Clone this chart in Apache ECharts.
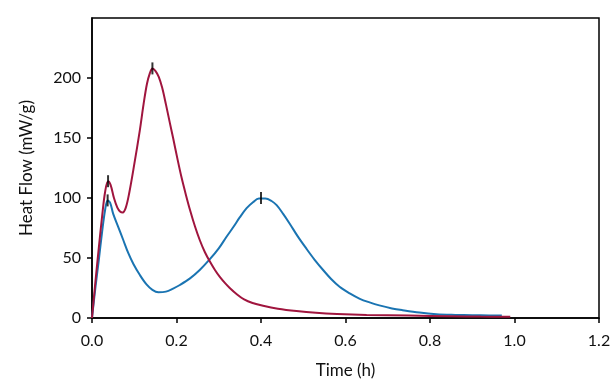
<!DOCTYPE html>
<html>
<head>
<meta charset="utf-8">
<script src="https://cdn.jsdelivr.net/npm/echarts@6/dist/echarts.min.js"></script>
<style>
html,body{margin:0;padding:0;background:#fff;}
#chart{width:615px;height:384px;}
</style>
</head>
<body>
<div id="chart"></div>
<script>
// ---- data ----
const redTime  = [0, 0.008, 0.016, 0.024, 0.031, 0.038, 0.044, 0.052, 0.06, 0.067, 0.073, 0.08, 0.088, 0.1, 0.113, 0.122, 0.13, 0.137, 0.143, 0.15, 0.158, 0.166, 0.175, 0.184, 0.192, 0.202, 0.212, 0.222, 0.232, 0.244, 0.255, 0.267, 0.279, 0.291, 0.303, 0.315, 0.326, 0.342, 0.36, 0.38, 0.405, 0.44, 0.484, 0.53, 0.58, 0.65, 0.75, 0.85, 0.92, 0.99];
const redFlow  = [0, 30, 58, 85, 105, 114, 111, 100, 92, 88.5, 88, 92, 104, 128, 156, 178, 195, 204, 208, 206, 201, 192, 178, 163, 150, 133, 117, 103, 90, 76, 65, 55, 47, 40, 34, 29, 25, 20, 15.5, 12.5, 10.2, 7.8, 5.8, 4.3, 3.3, 2.5, 2, 1.5, 1.2, 1];
const blueTime = [0, 0.008, 0.016, 0.024, 0.031, 0.037, 0.043, 0.05, 0.062, 0.074, 0.086, 0.098, 0.113, 0.129, 0.143, 0.157, 0.175, 0.192, 0.208, 0.232, 0.255, 0.279, 0.3, 0.318, 0.335, 0.35, 0.366, 0.381, 0.395, 0.41, 0.425, 0.437, 0.452, 0.468, 0.487, 0.507, 0.527, 0.547, 0.566, 0.586, 0.61, 0.634, 0.657, 0.68, 0.71, 0.735, 0.775, 0.815, 0.86, 0.9, 0.94, 0.97];
const blueFlow = [0, 25, 48, 72, 90, 98, 96, 87, 76, 65, 54, 45, 36, 28, 23.5, 21.5, 22, 24.5, 27.5, 33, 40, 49, 58, 67.5, 76, 84, 91.5, 96.5, 99.5, 99.5, 97.5, 94, 87, 78.6, 68, 58, 48.5, 40, 32.5, 26, 20.5, 16, 13, 10.5, 8, 6.5, 4.5, 3.2, 2.6, 2.3, 2.1, 2];
const peakTime = [0.038, 0.143, 0.037, 0.4];
const peakFlow = [114, 208, 98, 100];
const xTicks = [0, 0.2, 0.4, 0.6, 0.8, 1.0, 1.2];
const yTicks = [0, 50, 100, 150, 200];

const RED = '#A0153E';
const BLUE = '#1A74B2';
const FONT = 'Lato';

const zip = (a, b) => a.map((v, i) => [v, b[i]]);

const chart = echarts.init(document.getElementById('chart'), null, {renderer: 'canvas'});
chart.setOption({
  animation: false,
  backgroundColor: '#fff',
  grid: {left: 92, right: 16, top: 18, bottom: 66, show: true, borderColor: '#000', borderWidth: 1.5, backgroundColor: 'transparent'},
  xAxis: {
    type: 'value', min: 0, max: 1.2, interval: 0.2,
    name: 'Time (h)', nameLocation: 'middle', nameGap: 44,
    nameTextStyle: {fontFamily: FONT, fontSize: 17, color: '#111'},
    axisLine: {show: true, lineStyle: {color: '#000', width: 1.5}},
    axisTick: {show: true, length: 5, lineStyle: {color: '#000', width: 1.5}, customValues: xTicks},
    axisLabel: {fontFamily: FONT, fontSize: 16, color: '#111', margin: 15, customValues: xTicks,
      formatter: v => v.toFixed(1)},
    splitLine: {show: false}
  },
  yAxis: {
    type: 'value', min: 0, max: 250, interval: 50,
    name: 'Heat Flow (mW/g)', nameLocation: 'middle', nameGap: 57,
    nameTextStyle: {fontFamily: FONT, fontSize: 17, color: '#111'},
    axisLine: {show: true, lineStyle: {color: '#000', width: 1.5}},
    axisTick: {show: true, length: 5, lineStyle: {color: '#000', width: 1.5}, customValues: yTicks},
    axisLabel: {fontFamily: FONT, fontSize: 16, color: '#111', margin: 11, customValues: yTicks},
    splitLine: {show: false}
  },
  series: [
    {type: 'line', data: zip(redTime, redFlow), smooth: 0.35, showSymbol: false,
     lineStyle: {color: RED, width: 2}, z: 3},
    {type: 'line', data: zip(blueTime, blueFlow), smooth: 0.35, showSymbol: false,
     lineStyle: {color: BLUE, width: 2}, z: 2},
    {type: 'scatter', data: zip(peakTime, peakFlow), symbol: 'rect', symbolSize: [2, 12],
     itemStyle: {color: '#000'}, z: 5}
  ]
});
</script>
</body>
</html>
